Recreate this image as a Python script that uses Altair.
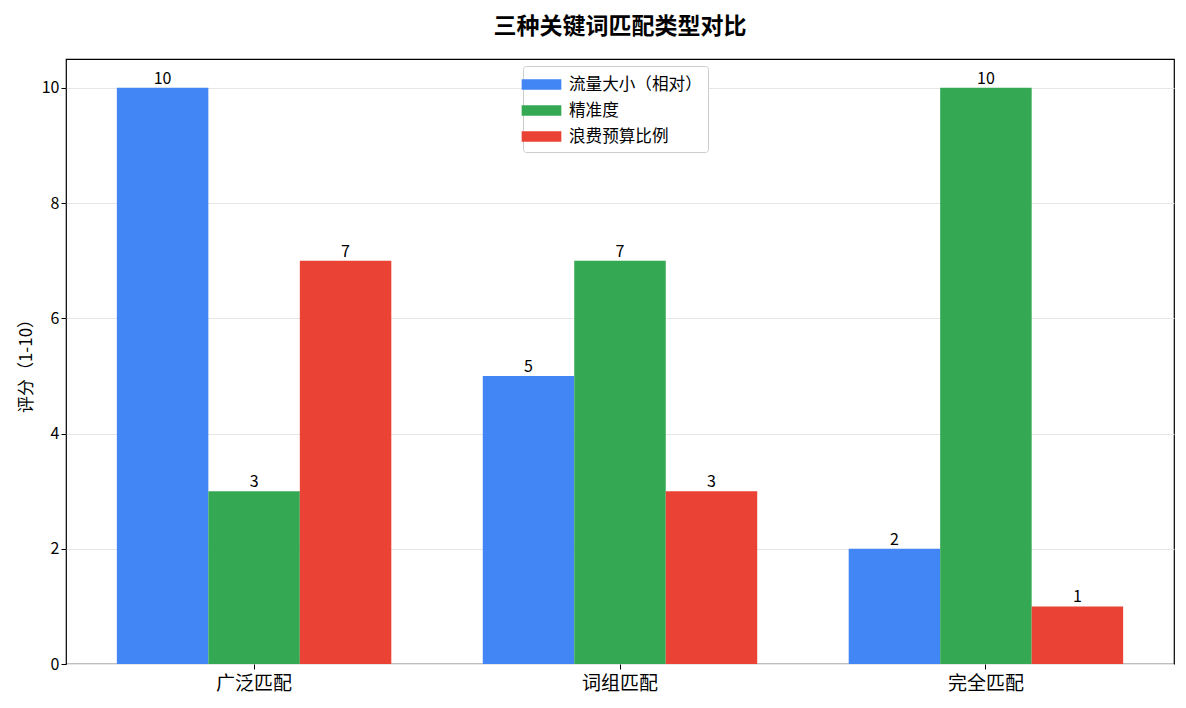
import altair as alt
import pandas as pd

categories = ["广泛匹配", "词组匹配", "完全匹配"]
series = ["流量大小（相对）", "精准度", "浪费预算比例"]
traffic = [10, 5, 2]
precision = [3, 7, 10]
waste = [7, 3, 1]
colors = ["#4285F4", "#34A853", "#EA4335"]

rows = []
for vals, s in zip([traffic, precision, waste], series):
    for c, v in zip(categories, vals):
        rows.append({"类型": c, "指标": s, "评分": v})
df = pd.DataFrame(rows)

FONT = "Noto Sans CJK SC"

x = alt.X("类型:N", sort=categories,
          scale=alt.Scale(paddingInner=0.25, paddingOuter=0.139),
          axis=alt.Axis(title=None, labelAngle=0, labelFontSize=19, labelColor="#000",
                        tickColor="#000", domain=False, labelPadding=5, tickSize=5))
xo = alt.XOffset("指标:N", sort=series, scale=alt.Scale(paddingInner=0, paddingOuter=0))
y = alt.Y("评分:Q", scale=alt.Scale(domain=[0, 10.5], nice=False),
          axis=alt.Axis(title="评分（1-10）", values=[0, 2, 4, 6, 8, 10], format="d",
                        titleFontSize=17, titleFontWeight="normal", titleColor="#000",
                        labelFontSize=16, labelColor="#000", tickColor="#000", domain=False,
                        gridColor="#e6e6e6", tickSize=5, titlePadding=6))

bars = alt.Chart(df).mark_bar().encode(
    x=x, xOffset=xo, y=y,
    color=alt.Color("指标:N", sort=series, scale=alt.Scale(domain=series, range=colors),
                    legend=alt.Legend(title=None, orient="none", legendX=457, legendY=7,
                                      labelFontSize=16.6, labelColor="#000",
                                      symbolType="M-1.6,-0.42H1.6V0.42H-1.6Z", symbolSize=615,
                                      symbolStrokeWidth=0, symbolOpacity=1,
                                      strokeColor="#cccccc", fillColor="white", padding=6,
                                      cornerRadius=3, rowPadding=4, labelOffset=15)),
)
labels = alt.Chart(df).mark_text(baseline="bottom", dy=-1, fontSize=16, color="#000", font=FONT).encode(
    x=alt.X("类型:N", sort=categories), xOffset=alt.XOffset("指标:N", sort=series), y="评分:Q",
    text="评分:Q")

chart = (bars + labels).properties(
    width=1108, height=605,
    title=alt.TitleParams("三种关键词匹配类型对比", fontSize=23, fontWeight="bold", color="#000",
                          offset=20, anchor="middle"),
    autosize=alt.AutoSizeParams(type="none"),
    padding={"left": 58, "top": 51, "right": 4, "bottom": 36},
).configure(font=FONT).configure_view(stroke="#000", strokeWidth=1.2)

chart.save("out.html", embed_options={"renderer": "svg", "actions": False})
